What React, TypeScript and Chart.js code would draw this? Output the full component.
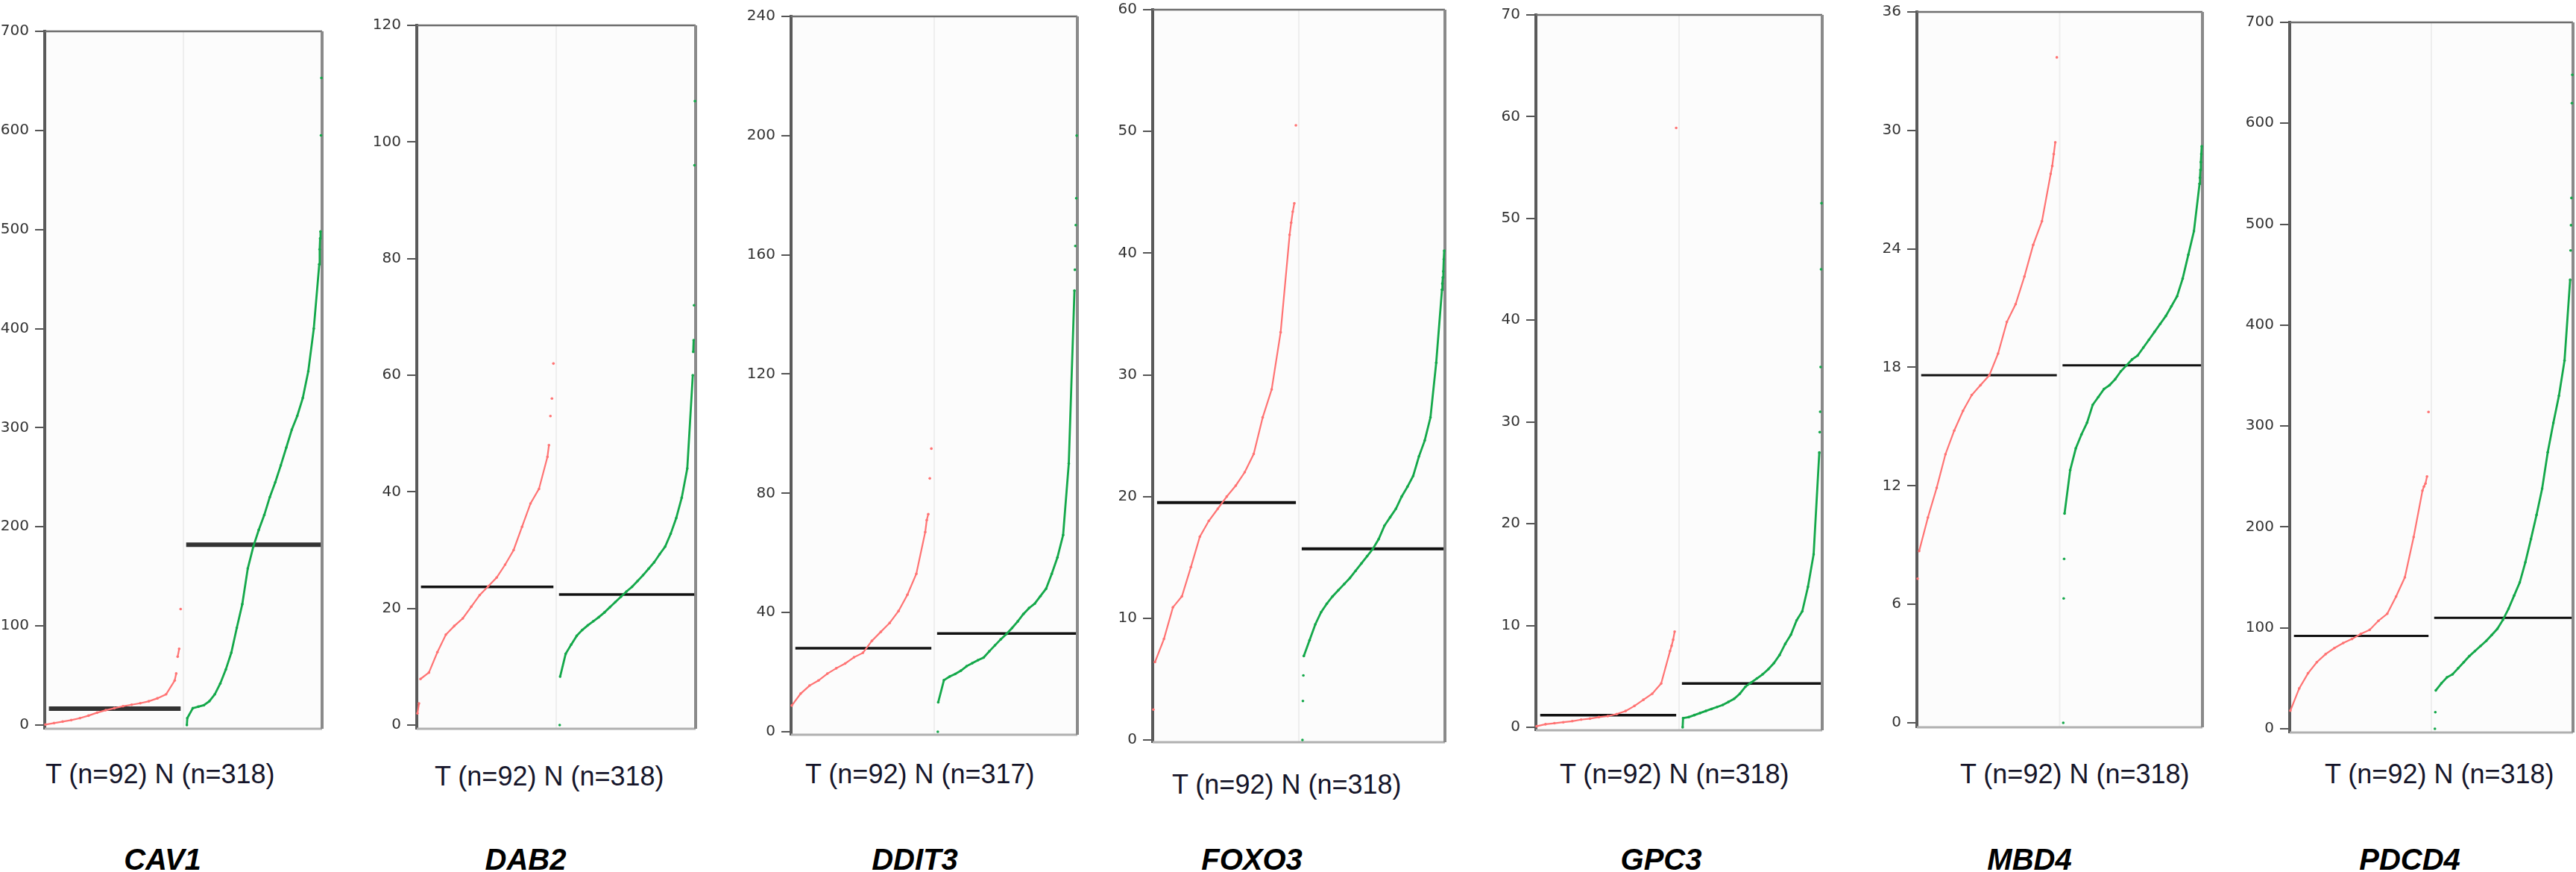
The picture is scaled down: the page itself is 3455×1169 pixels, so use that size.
import React, { useEffect, useRef } from "react";
import { Chart, registerables } from "chart.js";

Chart.register(...registerables);

const genes = ["CAV1", "DAB2", "DDIT3", "FOXO3", "GPC3", "MBD4", "PDCD4"];
const tumorCounts = [92, 92, 92, 92, 92, 92, 92];
const normalCounts = [318, 318, 317, 318, 318, 318, 318];
const tumorMedians = [16.5, 23.7, 28, 19.5, 1.2, 17.6, 92];
const normalMedians = [182, 22.4, 33, 15.7, 4.3, 18.1, 110];

const yTicks = [
  [0, 100, 200, 300, 400, 500, 600, 700],
  [0, 20, 40, 60, 80, 100, 120],
  [0, 40, 80, 120, 160, 200, 240],
  [0, 10, 20, 30, 40, 50, 60],
  [0, 10, 20, 30, 40, 50, 60, 70],
  [0, 6, 12, 18, 24, 30, 36],
  [0, 100, 200, 300, 400, 500, 600, 700],
];

// sorted values: lowest outliers, evenly ranked body, highest outliers
const cav1TLow: number[] = [];
const cav1TBody = [0.5, 2, 3.5, 5, 7, 9.5, 12.5, 15, 17, 19, 20.5, 22, 24, 27, 31, 45];
const cav1THigh = [52, 69, 77, 117];
const cav1NLow = [0];
const cav1NBody = [7, 17, 18.5, 20, 24, 31, 42, 56, 73, 98, 122, 158, 180, 197, 212, 230, 245, 262, 280, 298, 312, 330, 357, 400, 465];
const cav1NHigh = [480, 491, 498, 595, 653];

const dab2TLow = [2, 3.7];
const dab2TBody = [7.9, 9, 12.5, 15.5, 17, 18.3, 20.3, 22.3, 23.8, 25.3, 27.5, 30, 34, 38, 40.5, 46];
const dab2THigh = [48, 53, 56, 62];
const dab2NLow = [0];
const dab2NBody = [8.3, 12.2, 13.8, 15.3, 16.3, 17.1, 17.8, 18.5, 19.3, 20.2, 21.1, 22, 22.9, 23.7, 24.7, 25.7, 26.8, 27.9, 29.3, 30.6, 32.8, 35.5, 39, 44, 60];
const dab2NHigh = [64, 66, 72, 96, 107];

const ddit3TLow: number[] = [];
const ddit3TBody = [8.8, 12.8, 15.5, 17.2, 19.5, 21.3, 22.9, 25, 26.5, 30.5, 33.5, 36.5, 40.5, 46, 53, 67];
const ddit3THigh = [71, 73, 85, 95];
const ddit3NLow = [0];
const ddit3NBody = [9.9, 17.3, 18.5, 19.4, 20.5, 22, 23, 24, 24.9, 27, 29, 31, 32.8, 34.8, 37, 39.5, 41.5, 43, 45.5, 48, 53, 58.5, 66, 90, 148];
const ddit3NHigh = [155, 163, 170, 179, 200];

const foxo3TLow = [2.5];
const foxo3TBody = [6.4, 8.3, 10.9, 11.8, 14.2, 16.7, 18, 19, 20, 20.9, 22, 23.5, 26.5, 28.8, 33.5, 41.5];
const foxo3THigh = [42.5, 43.4, 44.1, 50.5];
const foxo3NLow = [0, 3.2, 5.3];
const foxo3NBody = [6.9, 8.2, 9.5, 10.5, 11.2, 11.8, 12.3, 12.8, 13.3, 13.9, 14.5, 15.1, 15.7, 16.5, 17.6, 18.3, 19, 20, 20.8, 21.7, 23.3, 24.6, 26.5, 31, 37];
const foxo3NHigh = [37.5, 38, 38.5, 39.5, 40.2];

const gpc3TLow: number[] = [];
const gpc3TBody = [0.1, 0.3, 0.4, 0.5, 0.6, 0.75, 0.85, 1.0, 1.1, 1.3, 1.6, 2.1, 2.7, 3.3, 4.3, 7.5];
const gpc3THigh = [8, 8.6, 9.4, 58.9];
const gpc3NLow = [0];
const gpc3NBody = [0.9, 1.0, 1.2, 1.4, 1.6, 1.8, 2.0, 2.2, 2.5, 2.8, 3.3, 4.0, 4.4, 4.8, 5.2, 5.7, 6.3, 7.1, 8.2, 9.1, 10.5, 11.4, 13.8, 17, 27];
const gpc3NHigh = [29, 31, 35.4, 45, 51.5];

const mbd4TLow = [7.3];
const mbd4TBody = [8.7, 10.4, 11.9, 13.6, 14.8, 15.8, 16.6, 17.1, 17.6, 18.7, 20.3, 21.2, 22.6, 24.2, 25.4, 27.8];
const mbd4THigh = [28.2, 28.8, 29.4, 33.7];
const mbd4NLow = [0, 6.3, 8.3];
const mbd4NBody = [10.6, 12.8, 13.9, 14.6, 15.2, 16.1, 16.5, 16.9, 17.1, 17.4, 17.8, 18.1, 18.4, 18.6, 19.0, 19.4, 19.8, 20.2, 20.6, 21.1, 21.6, 22.5, 23.7, 24.9, 27.3];
const mbd4NHigh = [27.6, 28, 28.4, 28.8, 29.2];

const pdcd4TLow: number[] = [];
const pdcd4TBody = [18, 40, 55, 66, 74, 80, 85, 89, 94, 98, 107, 114, 131, 150, 190, 236];
const pdcd4THigh = [240, 243, 250, 314];
const pdcd4NLow = [0, 16.5];
const pdcd4NBody = [38, 45, 51, 54, 60, 66, 72, 77, 82, 87, 93, 99, 108, 119, 132, 145, 165, 188, 212, 238, 274, 303, 330, 365, 445];
const pdcd4NHigh = [474, 499, 526, 620, 648];

const tumorLow = [cav1TLow, dab2TLow, ddit3TLow, foxo3TLow, gpc3TLow, mbd4TLow, pdcd4TLow];
const tumorBody = [cav1TBody, dab2TBody, ddit3TBody, foxo3TBody, gpc3TBody, mbd4TBody, pdcd4TBody];
const tumorHigh = [cav1THigh, dab2THigh, ddit3THigh, foxo3THigh, gpc3THigh, mbd4THigh, pdcd4THigh];
const normalLow = [cav1NLow, dab2NLow, ddit3NLow, foxo3NLow, gpc3NLow, mbd4NLow, pdcd4NLow];
const normalBody = [cav1NBody, dab2NBody, ddit3NBody, foxo3NBody, gpc3NBody, mbd4NBody, pdcd4NBody];
const normalHigh = [cav1NHigh, dab2NHigh, ddit3NHigh, foxo3NHigh, gpc3NHigh, mbd4NHigh, pdcd4NHigh];

// page layout of each panel (pixels)
type Box = {
  left: number;
  right: number;
  top: number;
  zero: number;
  bottom: number;
  labelLeft: number;
  labelTop: number;
  titleX: number;
  medianWidth: number;
};

const boxes: Box[] = [
  { left: 60, right: 432, top: 42, zero: 972, bottom: 977, labelLeft: 61, labelTop: 1025, titleX: 218, medianWidth: 6 },
  { left: 559, right: 933, top: 34, zero: 972, bottom: 977, labelLeft: 583, labelTop: 1028, titleX: 705, medianWidth: 3.5 },
  { left: 1061, right: 1445, top: 22, zero: 981, bottom: 985, labelLeft: 1080, labelTop: 1025, titleX: 1227, medianWidth: 3.5 },
  { left: 1546, right: 1938, top: 13, zero: 992, bottom: 995, labelLeft: 1572, labelTop: 1039, titleX: 1679, medianWidth: 4 },
  { left: 2060, right: 2444, top: 20, zero: 975, bottom: 979, labelLeft: 2092, labelTop: 1025, titleX: 2228, medianWidth: 3.5 },
  { left: 2571, right: 2954, top: 16, zero: 969, bottom: 975, labelLeft: 2629, labelTop: 1025, titleX: 2722, medianWidth: 3 },
  { left: 3071, right: 3451, top: 30, zero: 977, bottom: 982, labelLeft: 3118, labelTop: 1025, titleX: 3232, medianWidth: 3 },
];

const AXW = 80;
const PADT = 20;
const PADB = 20;
const PADR = 12;
const RED = "#ff7373";
const GREEN = "#14a84a";

type Pt = { x: number; y: number };

// put sorted values at their rank along a group's half of the x axis
function place(low: number[], body: number[], high: number[], n: number, x0: number, span: number) {
  const pts: Pt[] = [];
  low.forEach((v, i) => pts.push({ x: x0 + (span * i) / (n - 1), y: v }));
  const a = low.length;
  const b = n - 1 - high.length;
  body.forEach((v, k) => {
    const r = a + (k * (b - a)) / (body.length - 1);
    pts.push({ x: x0 + (span * r) / (n - 1), y: v });
  });
  high.forEach((v, j) => pts.push({ x: x0 + (span * (b + 1 + j)) / (n - 1), y: v }));
  return pts;
}

function series(data: Pt[], lowCount: number, bodyCount: number, color: string, width: number) {
  const firstBody = lowCount;
  const lastBody = lowCount + bodyCount - 1;
  return {
    type: "scatter" as const,
    data,
    showLine: true,
    borderColor: color,
    borderWidth: width,
    pointRadius: 1.8,
    pointBackgroundColor: color,
    pointBorderWidth: 0,
    clip: false as const,
    segment: {
      // outliers stay loose dots unless they sit right next to their neighbour
      borderColor: (c: any) => {
        const inBody = c.p0DataIndex >= firstBody && c.p1DataIndex <= lastBody;
        if (inBody) return color;
        return Math.abs(c.p1.y - c.p0.y) > 22 ? "rgba(0,0,0,0)" : color;
      },
    },
  };
}

function medianLine(x0: number, x1: number, y: number, width: number) {
  return {
    type: "line" as const,
    data: [
      { x: x0, y },
      { x: x1, y },
    ],
    borderColor: width > 5 ? "#333333" : "#111111",
    borderWidth: width,
    pointRadius: 0,
    clip: false as const,
  };
}

const boxPlugin = {
  id: "panelBox",
  beforeDraw(chart: Chart) {
    const { ctx, chartArea: a } = chart;
    ctx.save();
    ctx.fillStyle = "#fcfcfc";
    ctx.fillRect(a.left, a.top, a.right - a.left, a.bottom - a.top);
    ctx.restore();
  },
  beforeDatasetsDraw(chart: Chart) {
    const { ctx, chartArea: a, scales } = chart;
    const xm = scales.x.getPixelForValue(1);
    ctx.save();
    ctx.strokeStyle = "#eeeeee";
    ctx.lineWidth = 2;
    ctx.beginPath();
    ctx.moveTo(xm, a.top);
    ctx.lineTo(xm, a.bottom);
    ctx.stroke();
    ctx.strokeStyle = "#b0b0b0";
    ctx.lineWidth = 3;
    ctx.beginPath();
    ctx.moveTo(a.left, a.bottom);
    ctx.lineTo(a.right, a.bottom);
    ctx.stroke();
    ctx.strokeStyle = "#6e6e6e";
    ctx.lineWidth = 2.5;
    ctx.beginPath();
    ctx.moveTo(a.left, a.top);
    ctx.lineTo(a.right, a.top);
    ctx.stroke();
    ctx.strokeStyle = "#8a8a8a";
    ctx.lineWidth = 4;
    ctx.beginPath();
    ctx.moveTo(a.right, a.top);
    ctx.lineTo(a.right, a.bottom);
    ctx.stroke();
    ctx.restore();
  },
};

function Panel({ index }: { index: number }) {
  const canvasRef = useRef<HTMLCanvasElement | null>(null);
  const box = boxes[index];
  const width = AXW + (box.right - box.left) + PADR;
  const height = PADT + (box.bottom - box.top) + PADB;

  useEffect(() => {
    if (!canvasRef.current) return;
    const ticks = yTicks[index];
    const yMax = ticks[ticks.length - 1];
    const yMin = (-(box.bottom - box.zero) / (box.zero - box.top)) * yMax;
    const tumor = place(tumorLow[index], tumorBody[index], tumorHigh[index], tumorCounts[index], 0.005, 0.975);
    const normal = place(normalLow[index], normalBody[index], normalHigh[index], normalCounts[index], 1.025, 0.97);

    const chart = new Chart(canvasRef.current, {
      type: "scatter",
      data: {
        datasets: [
          series(tumor, tumorLow[index].length, tumorBody[index].length, RED, 2.2),
          series(normal, normalLow[index].length, normalBody[index].length, GREEN, 2.8),
          medianLine(0.03, 0.98, tumorMedians[index], box.medianWidth),
          medianLine(1.02, 1.99, normalMedians[index], box.medianWidth),
        ] as any,
      },
      options: {
        animation: false,
        responsive: false,
        layout: { padding: { top: PADT, bottom: PADB, right: PADR, left: 0 } },
        plugins: { legend: { display: false }, tooltip: { enabled: false } },
        scales: {
          x: { type: "linear", min: 0, max: 2, display: false },
          y: {
            type: "linear",
            min: yMin,
            max: yMax,
            afterBuildTicks: (axis: any) => {
              axis.ticks = ticks.map((v) => ({ value: v }));
            },
            afterFit: (axis: any) => {
              axis.width = AXW;
            },
            ticks: {
              color: "#333333",
              padding: 8,
              font: { family: "'DejaVu Sans', Verdana, sans-serif", size: 20 },
            },
            grid: {
              drawOnChartArea: false,
              drawTicks: true,
              tickLength: 13,
              color: "#555555",
              lineWidth: 2,
            },
            border: { display: true, color: "#5a5a5a", width: 4 },
          },
        },
      },
      plugins: [boxPlugin],
    });

    return () => {
      chart.destroy();
    };
  }, [index]);

  return (
    <canvas
      ref={canvasRef}
      width={width}
      height={height}
      style={{ position: "absolute", left: box.left - AXW, top: box.top - PADT, width, height }}
    />
  );
}

export default function App() {
  return (
    <div
      style={{
        position: "absolute",
        left: 0,
        top: 0,
        width: 3455,
        height: 1169,
        background: "#ffffff",
        overflow: "hidden",
      }}
    >
      {genes.map((gene, i) => (
        <React.Fragment key={gene}>
          <Panel index={i} />
          <div
            style={{
              position: "absolute",
              left: boxes[i].labelLeft,
              top: boxes[i].labelTop - 5,
              font: "36px 'Liberation Sans', Arial, sans-serif",
              lineHeight: "36px",
              color: "#15152a",
              whiteSpace: "nowrap",
            }}
          >
            {`T (n=${tumorCounts[i]}) N (n=${normalCounts[i]})`}
          </div>
          <div
            style={{
              position: "absolute",
              left: boxes[i].titleX - 150,
              width: 300,
              top: 1132,
              textAlign: "center",
              font: "italic bold 40px 'Liberation Sans', Arial, sans-serif",
              lineHeight: "40px",
              color: "#000000",
              whiteSpace: "nowrap",
            }}
          >
            {gene}
          </div>
        </React.Fragment>
      ))}
    </div>
  );
}
